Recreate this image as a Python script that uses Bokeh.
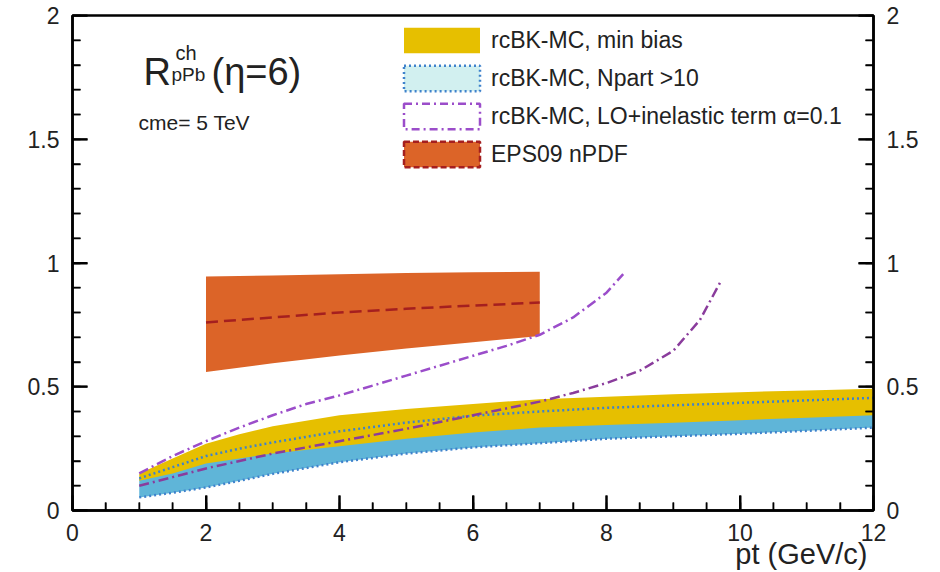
from bokeh.plotting import figure
from bokeh.models import (Range1d, LinearAxis, SingleIntervalTicker, Label,
                          Legend, LegendItem, Title)
from bokeh.embed import file_html
from bokeh.resources import INLINE

# ---------------- data ----------------
# rcBK-MC, min bias (band)
pt_mb = [1, 1.5, 2, 2.5, 3, 4, 5, 6, 7, 8, 9, 10, 11, 12]
mb_hi = [0.15, 0.21, 0.27, 0.308, 0.34, 0.385, 0.41, 0.43, 0.45, 0.46, 0.47, 0.478, 0.485, 0.492]
mb_lo = [0.12, 0.15, 0.19, 0.21, 0.23, 0.26, 0.29, 0.315, 0.335, 0.345, 0.355, 0.365, 0.375, 0.385]

# rcBK-MC, Npart > 10 (band)
np_hi = [0.13, 0.175, 0.22, 0.25, 0.275, 0.32, 0.355, 0.383, 0.40, 0.415, 0.425, 0.435, 0.445, 0.455]
np_lo = [0.053, 0.072, 0.093, 0.12, 0.148, 0.195, 0.23, 0.255, 0.272, 0.29, 0.30, 0.31, 0.322, 0.335]

# rcBK-MC, LO + inelastic term (two curves)
pt_a = [1, 1.5, 2, 2.5, 3, 3.5, 4, 4.5, 5, 5.5, 6, 6.5, 7, 7.5, 8, 8.25]
a_y = [0.15, 0.22, 0.28, 0.335, 0.385, 0.43, 0.465, 0.505, 0.545, 0.585, 0.625, 0.665, 0.71, 0.78, 0.88, 0.955]
pt_b = [1, 1.5, 2, 3, 4, 5, 6, 7, 7.5, 8, 8.5, 9, 9.4, 9.7]
b_y = [0.10, 0.135, 0.17, 0.23, 0.28, 0.33, 0.385, 0.44, 0.475, 0.515, 0.565, 0.645, 0.77, 0.92]

# EPS09 nPDF (band + central)
pt_e = [2, 3, 4, 5, 6, 7]
e_hi = [0.945, 0.95, 0.955, 0.96, 0.963, 0.965]
e_lo = [0.56, 0.595, 0.626, 0.655, 0.68, 0.705]
e_c = [0.76, 0.78, 0.80, 0.815, 0.828, 0.84]

# axis ticks
x_major = [0, 2, 4, 6, 8, 10, 12]
x_minor = [0.5, 1, 1.5, 2.5, 3, 3.5, 4.5, 5, 5.5, 6.5, 7, 7.5, 8.5, 9, 9.5, 10.5, 11, 11.5]
y_major = [0, 0.5, 1, 1.5, 2]
y_minor = [0.1, 0.2, 0.3, 0.4, 0.6, 0.7, 0.8, 0.9, 1.1, 1.2, 1.3, 1.4, 1.6, 1.7, 1.8, 1.9]
y_tick_labels = ["0", "0.5", "1", "1.5", "2"]

legend_labels = ["rcBK-MC, min bias", "rcBK-MC, Npart >10",
                 "rcBK-MC, LO+inelastic term \u03b1=0.1", "EPS09 nPDF"]
x_label = "pt (GeV/c)"

FONT = "Liberation Sans"
TXT = "#222222"
YELLOW = "#e6bf00"
BLUE = "#5fb5d8"
BLUE_LINE = "#3f82cc"
PURPLE = "#9b4dca"
ORANGE = "#dc6428"
DARKRED = "#a51f1f"

X0, X1, Y0, Y1 = 0, 12, 0, 2
FW, FH = 801, 495

p = figure(frame_width=FW, frame_height=FH,
           x_range=Range1d(X0, X1), y_range=Range1d(Y0, Y1),
           output_backend="svg", toolbar_location=None,
           min_border_left=72, min_border_right=67,
           min_border_top=15, min_border_bottom=62,
           background_fill_alpha=0, border_fill_color="white")
p.xgrid.grid_line_color = None
p.ygrid.grid_line_color = None
p.outline_line_color = "black"
p.outline_line_width = 2.5

# ---------------- glyphs ----------------
p.varea(x=pt_e, y1=e_lo, y2=e_hi, fill_color=ORANGE)
p.varea(x=pt_mb, y1=np_lo, y2=np_hi, fill_color=BLUE)
r_mb = p.varea(x=pt_mb, y1=mb_lo, y2=mb_hi, fill_color=YELLOW)
p.line(pt_mb, np_hi, line_color=BLUE_LINE, line_width=2.5, line_dash="2 3")
p.line(pt_mb, np_lo, line_color=BLUE_LINE, line_width=2.5, line_dash="2 3")
p.line(pt_a, a_y, line_color=PURPLE, line_width=2.5, line_dash="10 4 2 4")
p.line(pt_b, b_y, line_color="#8a3c9c", line_width=2.5, line_dash="10 4 2 4")
p.line(pt_e, e_c, line_color=DARKRED, line_width=2.5, line_dash="12 6")

# inward tick marks as short segments (tick length given in pixels)
dx = (X1 - X0) / FW
dy = (Y1 - Y0) / FH
for ticks, n, w in ((x_major, 15, 2), (x_minor, 8, 1.5)):
    p.segment(x0=ticks, y0=[Y0] * len(ticks), x1=ticks, y1=[Y0 + n * dy] * len(ticks),
              line_color="black", line_width=w)
for ticks, n, w in ((y_major, 15, 2), (y_minor, 8, 1.5)):
    p.segment(x0=[X0] * len(ticks), y0=ticks, x1=[X0 + n * dx] * len(ticks), y1=ticks,
              line_color="black", line_width=w)
    p.segment(x0=[X1] * len(ticks), y0=ticks, x1=[X1 - n * dx] * len(ticks), y1=ticks,
              line_color="black", line_width=w)

# legend-only renderers (styled like the reference legend swatches)
np_px = pt_mb + pt_mb[::-1]
np_py = np_hi + np_lo[::-1]
leg_np = p.patch(np_px, np_py, fill_color="#d2f0f0", line_color=BLUE_LINE,
                 line_width=2.5, line_dash="2 3", visible=False)
leg_a = p.patch(pt_a, a_y, fill_color="white", line_color=PURPLE,
                line_width=2.5, line_dash="8 4 2 4", visible=False)
e_px = pt_e + pt_e[::-1]
e_py = e_hi + e_lo[::-1]
leg_e = p.patch(e_px, e_py, fill_color=ORANGE, line_color=DARKRED,
                line_width=2.5, line_dash="6 3", visible=False)

legend = Legend(items=[LegendItem(label=legend_labels[0], renderers=[r_mb]),
                       LegendItem(label=legend_labels[1], renderers=[leg_np]),
                       LegendItem(label=legend_labels[2], renderers=[leg_a]),
                       LegendItem(label=legend_labels[3], renderers=[leg_e])],
                location=(322, 340), glyph_width=95, glyph_height=32,
                spacing=6, padding=0, margin=0, label_standoff=2,
                label_text_font=FONT, label_text_font_size="23px",
                label_text_color=TXT,
                border_line_alpha=0, background_fill_alpha=0)
p.add_layout(legend)

# ---------------- axes ----------------
xt = SingleIntervalTicker(interval=2, num_minor_ticks=4)
yt = SingleIntervalTicker(interval=0.5, num_minor_ticks=5)
p.xaxis.ticker = xt
p.yaxis.ticker = yt
right = LinearAxis(ticker=yt)
p.add_layout(right, "right")
overrides = {float(v): s for v, s in zip(y_major, y_tick_labels)}
for ax in [p.xaxis[0], p.yaxis[0], right]:
    ax.major_tick_in = 15
    ax.major_tick_out = 0
    ax.minor_tick_in = 8
    ax.minor_tick_out = 0
    ax.axis_line_width = 2.5
    ax.major_tick_line_width = 2
    ax.minor_tick_line_width = 1.5
    ax.major_label_text_font = FONT
    ax.major_label_text_font_size = "23px"
    ax.major_label_text_color = TXT
    ax.major_label_standoff = 13
for ax in [p.yaxis[0], right]:
    ax.major_label_overrides = overrides

# x-axis title, right aligned
p.add_layout(Title(text=x_label, align="right", vertical_align="top",
                   text_font=FONT, text_font_size="29px",
                   text_font_style="normal", text_color=TXT,
                   standoff=-12, offset=6), "below")

# ---------------- texts ----------------
def lab(x, y, t, size, **kw):
    p.add_layout(Label(x=x, y=y, x_units="screen", y_units="screen", text=t,
                       text_font=FONT, text_font_size=size, text_color=TXT,
                       text_baseline="alphabetic", **kw))

lab(71, 439, "R", "38px")
lab(103, 458, "ch", "20px")
lab(99, 436, "pPb", "19px")
lab(139, 439, "(\u03b7=6)", "38px")
lab(66, 388, "cme= 5 TeV", "21px")

open("out.html", "w").write(file_html(p, INLINE))
